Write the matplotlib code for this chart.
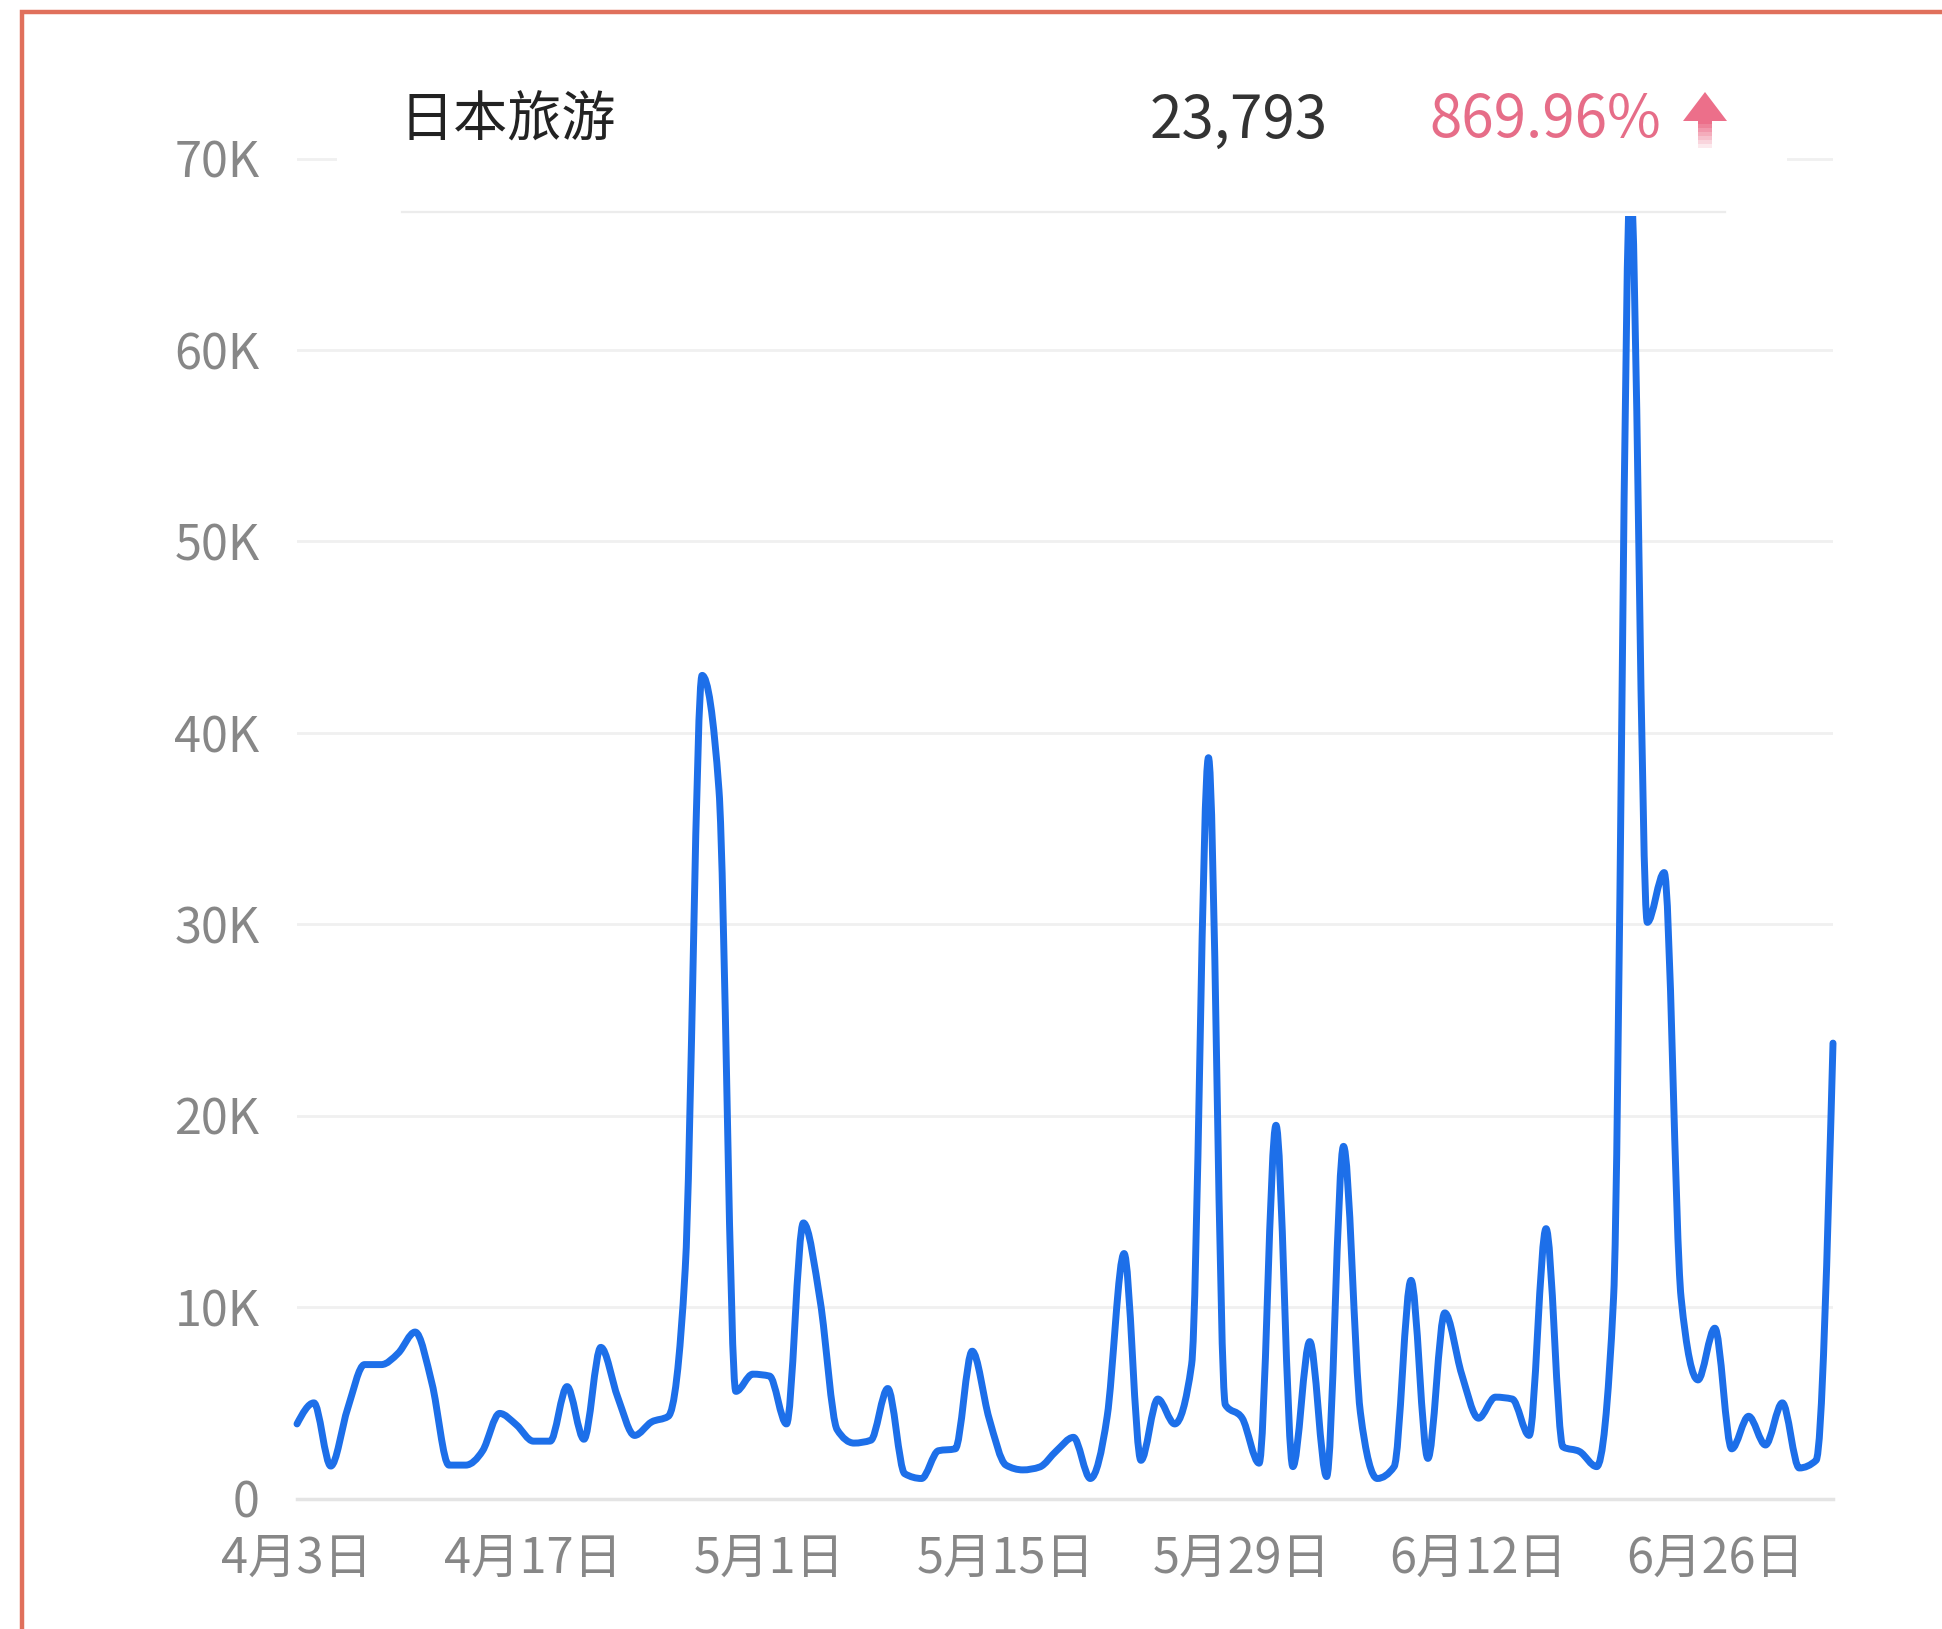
import numpy as np
import matplotlib
matplotlib.use("Agg")
import matplotlib.pyplot as plt
from matplotlib.path import Path
from matplotlib.patches import PathPatch, Rectangle, Polygon
from matplotlib.lines import Line2D

plt.rcParams['font.family'] = ['Noto Sans CJK SC', 'DejaVu Sans']

# ---------------- data ----------------
days = np.arange(92)  # daily points, 4月3日 .. 7月3日
values = [
    3900, 5000, 1700, 4700, 7000, 7000, 7600, 8700, 6000, 1750,
    1750, 2500, 4450, 3850, 3000, 3000, 5850, 3100, 7900, 5300,
    3300, 4000, 4300, 12000, 43000, 37000, 5600, 6500, 6400, 3900,
    14400, 10300, 3600, 2900, 3050, 5750, 1300, 1050, 2500, 2600,
    7700, 4200, 1750, 1500, 1650, 2500, 3200, 1050, 4300, 12800,
    2000, 5200, 3900, 7000, 38700, 4900, 4200, 1850, 19500, 1670,
    8200, 1150, 18400, 4500, 1050, 1670, 11400, 2100, 9700, 6500,
    4200, 5300, 5200, 3300, 14100, 2700, 2450, 1670, 10500, 69000,
    30100, 32700, 10500, 6200, 8900, 2600, 4300, 2800, 5000, 1600,
    2000, 23793,
]
tick_days = [0, 14, 28, 42, 56, 70, 84]
tick_labels = ["4月3日", "4月17日", "5月1日", "5月15日", "5月29日", "6月12日", "6月26日"]
y_ticks = [0, 10000, 20000, 30000, 40000, 50000, 60000, 70000]
y_tick_labels = ["0", "10K", "20K", "30K", "40K", "50K", "60K", "70K"]
keyword = "日本旅游"
last_value_text = "23,793"
change_text = "869.96%"

# ---------------- figure ----------------
W, H = 1942, 1629
fig = plt.figure(figsize=(W / 100, H / 100), dpi=100)
fig.patch.set_facecolor("white")

ax = fig.add_axes([297 / W, 1 - 1498.6 / H, (1833 - 297) / W, (1498.6 - 158.5) / H])
ax.set_xlim(days[0], days[-1])
ax.set_ylim(y_ticks[0], y_ticks[-1])
for s in ax.spines.values():
    s.set_visible(False)

ax.set_yticks(y_ticks)
ax.set_yticklabels(y_tick_labels)
ax.set_xticks(tick_days)
ax.set_xticklabels(tick_labels)
ax.tick_params(axis="y", length=0, pad=27, labelsize=35, labelcolor="#878787")
ax.tick_params(axis="x", length=0, pad=26, labelsize=35, labelcolor="#878787")

for yv in y_ticks[1:]:
    ax.axhline(yv, color="#f0f0f0", lw=2.0, zorder=1)
ax.axhline(y_ticks[0], color="#e4e4e4", lw=2.5, zorder=1, clip_on=False)

# smooth monotone cubic curve through the data points (Bezier path in data coords)
x = np.asarray(days, dtype=float)
y = np.asarray(values, dtype=float)
n = len(x)
h = np.diff(x)
sec = np.diff(y) / h
m = np.zeros(n)
for i in range(1, n - 1):
    s0, s1 = sec[i - 1], sec[i]
    p = (s0 + s1) / 2
    m[i] = (np.sign(s0) + np.sign(s1)) * min(abs(s0), abs(s1), 0.5 * abs(p))
m[0] = (3 * sec[0] - m[1]) / 2
m[-1] = (3 * sec[-1] - m[-2]) / 2
verts = [(x[0], y[0])]
codes = [Path.MOVETO]
for i in range(n - 1):
    d = h[i] / 3
    verts += [(x[i] + d, y[i] + m[i] * d), (x[i + 1] - d, y[i + 1] - m[i + 1] * d), (x[i + 1], y[i + 1])]
    codes += [Path.CURVE4] * 3
curve = PathPatch(Path(verts, codes), facecolor="none", edgecolor="#1d6fe9",
                  lw=5.0, capstyle="round", joinstyle="round", zorder=3, clip_on=False)
ax.add_patch(curve)

# ---------------- tooltip header ----------------
fig.patches.append(Rectangle((337 / W, 1 - 216 / H), (1787 - 337) / W, (216 - 40) / H,
                             transform=fig.transFigure, facecolor="white",
                             edgecolor="none", zorder=5))
fig.lines.append(Line2D([402 / W, 1725 / W], [1 - 212 / H] * 2, transform=fig.transFigure,
                        color="#ececec", lw=1.6, zorder=6))
ty = 1 - 121 / H
fig.text(399 / W, ty, keyword, fontsize=39, color="#222222", ha="left", va="center", zorder=7)
fig.text(1328 / W, ty, last_value_text, fontsize=42, color="#333333", ha="right", va="center", zorder=7)
fig.text(1661 / W, ty, change_text, fontsize=42, color="#e66d88", ha="right", va="center", zorder=7)

# up arrow with fading stem
def fp(px, py):
    return (px / W, 1 - py / H)

head = Polygon([fp(1705, 92), fp(1727, 121), fp(1683, 121)], closed=True,
               transform=fig.transFigure, facecolor="#ec6f8a", edgecolor="none", zorder=7)
fig.patches.append(head)
stem_top, stem_bot = 120, 148
steps = 7
for k in range(steps):
    y0 = stem_top + (stem_bot - stem_top) * k / steps
    y1 = stem_top + (stem_bot - stem_top) * (k + 1) / steps
    fig.patches.append(Rectangle(fp(1698, y1), 14 / W, (y1 - y0) / H, transform=fig.transFigure,
                                 facecolor="#ec6f8a", edgecolor="none",
                                 alpha=1 - 0.85 * k / (steps - 1), zorder=7))

# outer frame (top and left edges visible)
fig.patches.append(Rectangle((22 / W, -0.2), 1.3, 1.2 - 12 / H, transform=fig.transFigure,
                             fill=False, edgecolor="#e0705c", lw=3.2, zorder=8))

fig.savefig("out.png", dpi=100, facecolor="white")
